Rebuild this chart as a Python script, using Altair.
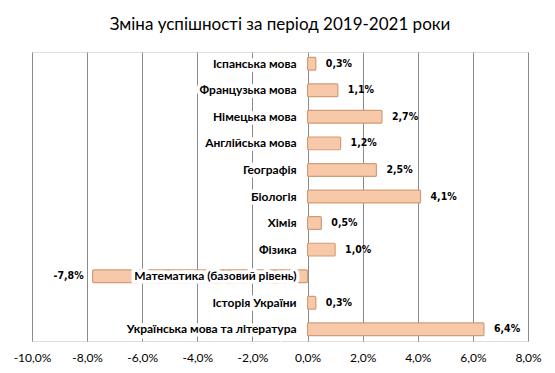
import altair as alt
import pandas as pd

subjects = [
    "Іспанська мова",
    "Французька мова",
    "Німецька мова",
    "Англійська мова",
    "Географія",
    "Біологія",
    "Хімія",
    "Фізика",
    "Математика (базовий рівень)",
    "Історія України",
    "Українська мова та література",
]
changes = [0.003, 0.011, 0.027, 0.012, 0.025, 0.041, 0.005, 0.010, -0.078, 0.003, 0.064]
tick_values = [-0.10, -0.08, -0.06, -0.04, -0.02, 0.0, 0.02, 0.04, 0.06, 0.08]

df = pd.DataFrame({"subject": subjects, "change": changes})
df["label"] = [("%.1f%%" % (v * 100)).replace(".", ",") for v in changes]
df["zero"] = 0.0

x_scale = alt.Scale(domain=[-0.10, 0.08], nice=False, zero=False)
y_scale = alt.Scale(domain=subjects, paddingInner=0.52, paddingOuter=0.2)

x_axis = alt.Axis(
    values=tick_values,
    labelExpr="replace(replace(format(datum.value, '.1%'), '.', ','), '\u2212', '-')",
    grid=True, gridColor="#8A8A8A", gridWidth=1,
    domain=False, ticks=False, labelPadding=11, labelFlush=False,
    labelFont="Lato", labelFontSize=12, labelColor="#000000",
    title=None,
)

base = alt.Chart(df).encode(
    y=alt.Y("subject:N", scale=y_scale, axis=None, sort=subjects)
)

bars = base.mark_bar(
    color="#F8C9A8", stroke="#D19C78", strokeWidth=1.2, cornerRadius=1
).encode(
    x=alt.X("zero:Q", scale=x_scale, axis=x_axis),
    x2="change:Q",
)

pos_labels = base.transform_filter("datum.change >= 0").mark_text(
    align="left", dx=10, font="DejaVu Sans Condensed", fontWeight="bold", fontSize=10.5,
    color="#000000"
).encode(x=alt.X("change:Q", scale=x_scale), text="label:N")

neg_labels = base.transform_filter("datum.change < 0").mark_text(
    align="right", dx=-9, font="DejaVu Sans Condensed", fontWeight="bold", fontSize=10.5,
    color="#000000"
).encode(x=alt.X("change:Q", scale=x_scale), text="label:N")

cat_halo = base.mark_text(
    align="right", dx=-11, font="Lato", fontWeight="bold", fontSize=12,
    color="#FFFFFF", stroke="#FFFFFF", strokeWidth=7, strokeJoin="miter",
).encode(x=alt.X("zero:Q", scale=x_scale), text="subject:N")

cat_labels = base.mark_text(
    align="right", dx=-11, font="Lato", fontWeight="bold", fontSize=12,
    color="#000000",
).encode(x=alt.X("zero:Q", scale=x_scale), text="subject:N")

chart = alt.layer(bars, pos_labels, neg_labels, cat_halo, cat_labels).properties(
    width=496,
    height=289,
    title=alt.TitleParams(
        "Зміна успішності за період 2019-2021 роки",
        font="Lato", fontSize=17, fontWeight="normal", color="#000000",
        anchor="middle", offset=18,
    ),
    autosize=alt.AutoSizeParams(type="none"),
    padding={"left": 24, "top": 44, "right": 19, "bottom": 30},
).configure_view(stroke=None).configure(background="#FFFFFF")

chart.save("out.html", embed_options={"renderer": "svg", "actions": False})
